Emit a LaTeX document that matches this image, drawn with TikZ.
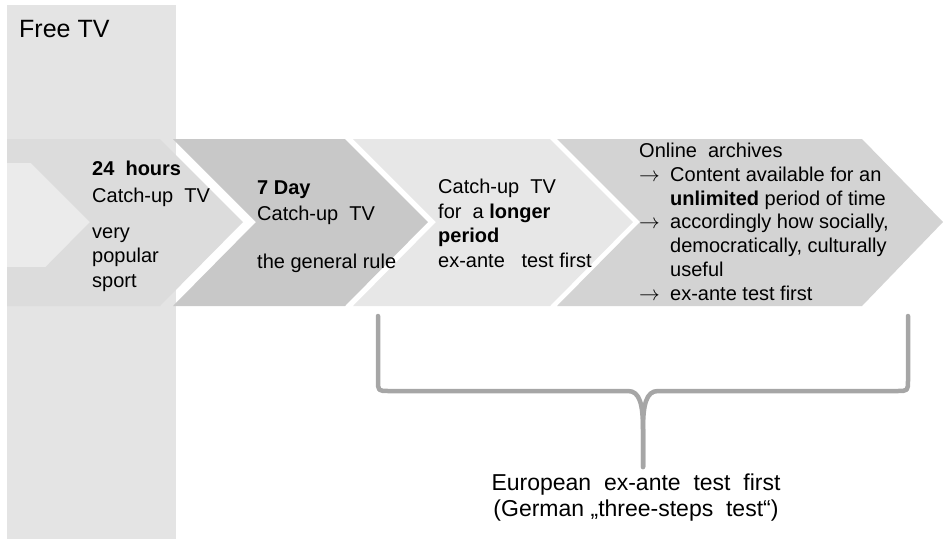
\documentclass[tikz,border=0pt]{standalone}
\usepackage{fontspec}
\setmainfont{Liberation Sans}
\usetikzlibrary{positioning}

\definecolor{panelgray}{HTML}{E4E4E4}
\definecolor{notchgray}{HTML}{EBEBEB}
\definecolor{chevA}{HTML}{DCDCDC}
\definecolor{chevB}{HTML}{C8C8C8}
\definecolor{chevC}{HTML}{E7E7E7}
\definecolor{chevD}{HTML}{D3D3D3}
\definecolor{bracegray}{HTML}{A6A6A6}

\begin{document}
\begin{tikzpicture}[x=1pt,y=-1pt,
  txt/.style={anchor=base west,align=left,inner sep=0pt,font=\fontsize{20}{24.5}\selectfont},
  brace/.style={draw=bracegray,line width=4.5pt,line cap=round,line join=round}]

\useasboundingbox (0,0) rectangle (943,539);

% Free TV column
\fill[panelgray] (7,5) rectangle (176,539);
\node[anchor=base west,inner sep=0pt,font=\fontsize{25}{30}\selectfont] (free) at (19,37) {Free TV};

% chevrons
\fill[chevA] (7,139) rectangle (100,306);
\fill[notchgray] (7,163) rectangle (100,267);
\fill[chevA] (7,139) -- (160,139) -- (243,222) -- (160,306) -- (7,306) -- (90,222) -- cycle;
\fill[chevB] (173,139) -- (345,139) -- (428,222) -- (345,306) -- (173,306) -- (256,222) -- cycle;
\fill[chevC] (353,139) -- (550,139) -- (633,222) -- (550,306) -- (353,306) -- (436,222) -- cycle;
\fill[chevD] (557,139) -- (862,139) -- (943,222) -- (862,306) -- (557,306) -- (640,222) -- cycle;

% texts (anchored at the last baseline)
\node[txt] (hours) at (92,287) {\textbf{24\ \ hours}\\[2.5pt] Catch-up\ \ TV\\[11.5pt] very\\ popular\\ sport};
\node[txt] (week) at (257,268) {\textbf{7 Day}\\[1.5pt] Catch-up\ \ TV\\[23.5pt] the general rule};
\node[txt] (longer) at (438,267) {Catch-up\ \ TV\\ for\ \ a \textbf{longer}\\ \textbf{period}\\ ex-ante\ \ \ test first};
\node[txt,font=\fontsize{20}{23.7}\selectfont] (archive) at (639,300)
  {Online\ \ archives\\
   \makebox[31pt][l]{$\rightarrow$}Content available for an\\
   \hspace*{31pt}\textbf{unlimited} period of time\\
   \makebox[31pt][l]{$\rightarrow$}accordingly how socially,\\
   \hspace*{31pt}democratically, culturally\\
   \hspace*{31pt}useful\\
   \makebox[31pt][l]{$\rightarrow$}ex-ante test first};

% brace under the last two steps
\coordinate (braceL) at (378,316);
\coordinate (braceR) at (908,316);
\coordinate (braceTip) at (643,467);
\draw[brace] (braceL) -- (378,380) .. controls (378,391) .. (389,391) -- (628,391)
  .. controls (640,391) and (643,405) .. (643,430) -- (braceTip);
\draw[brace] (braceR) -- (908,380) .. controls (908,391) .. (897,391) -- (658,391)
  .. controls (646,391) and (643,405) .. (643,430) -- (braceTip);

\node[anchor=base,align=center,inner sep=0pt,font=\fontsize{23}{26}\selectfont] (exante) at (636,516)
  {European\ \ ex-ante\ \ test\ \ first\\ (German „three-steps\ \ test“)};

\end{tikzpicture}
\end{document}
